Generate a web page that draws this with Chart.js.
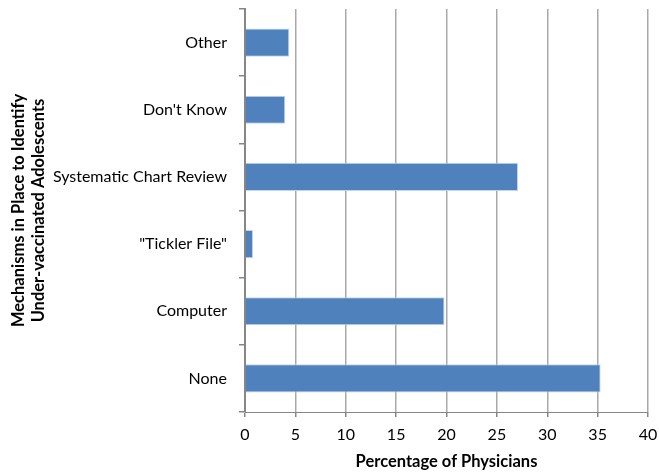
<!DOCTYPE html>
<html>
<head>
<meta charset="utf-8">
<script src="https://cdn.jsdelivr.net/npm/chart.js@4"></script>
<style>
  html, body { margin: 0; padding: 0; background: #fff; }
  #wrap { width: 659px; height: 472px; }
</style>
</head>
<body>
<div id="wrap"><canvas id="c" width="659" height="472"></canvas></div>
<script>
// Mechanisms physicians use, listed top to bottom
const categories = ['Other', "Don't Know", 'Systematic Chart Review', '"Tickler File"', 'Computer', 'None'];
// Percentage of physicians per mechanism
const percentages = [4.4, 4.0, 27.1, 0.8, 19.8, 35.3];
const xTitle = 'Percentage of Physicians';
const yTitle = ['Mechanisms in Place to Identify', 'Under-vaccinated Adolescents'];

const FONT = 'Lato, "Open Sans", sans-serif';
const AXIS = '#868686';
const GRID = '#a9a9a9';

new Chart(document.getElementById('c'), {
  type: 'bar',
  data: {
    labels: categories,
    datasets: [{
      data: percentages,
      backgroundColor: '#4f81bd',
      borderColor: '#c3d5ec',
      borderWidth: 1,
      categoryPercentage: 1,
      barPercentage: 0.42
    }]
  },
  options: {
    indexAxis: 'y',
    responsive: false,
    animation: false,
    layout: { padding: { left: 0, top: 9, right: 11, bottom: 0 } },
    plugins: { legend: { display: false }, tooltip: { enabled: false } },
    scales: {
      x: {
        min: 0, max: 40,
        ticks: { stepSize: 5, color: '#000', font: { family: FONT, size: 16 }, padding: 8 },
        grid: { color: GRID, lineWidth: 1.5, tickLength: 5, tickColor: AXIS },
        border: { color: AXIS, width: 1 },
        title: { display: true, text: xTitle, color: '#000', font: { family: FONT, size: 16.5, weight: 'bold' }, padding: { top: 4, bottom: 0 } },
        afterFit: s => { s.height = 60; s.paddingLeft = 0; s.paddingRight = 0; }
      },
      y: {
        ticks: { color: '#000', font: { family: FONT, size: 16 }, padding: 12 },
        grid: { drawOnChartArea: false, tickLength: 6, color: AXIS, lineWidth: 1.5 },
        border: { color: AXIS, width: 2 },
        title: { display: true, text: yTitle, color: '#000', font: { family: FONT, size: 16.5, weight: 'bold', lineHeight: 1.25 }, padding: { top: 8, bottom: 0 } },
        afterFit: s => { s.width = 245; s.paddingTop = 0; s.paddingBottom = 0; }
      }
    }
  }
});
</script>
</body>
</html>
